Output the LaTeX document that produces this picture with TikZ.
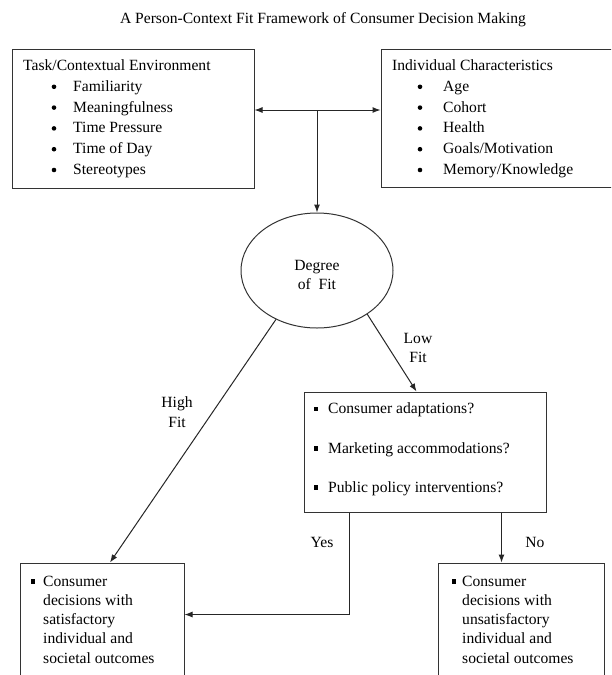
\documentclass[tikz,border=0pt]{standalone}
\usepackage{fontspec}
\setmainfont{Liberation Serif}
\usetikzlibrary{arrows.meta,shapes.geometric,calc}
\begin{document}
\begin{tikzpicture}[x=1pt,y=-1pt,
  every node/.style={font=\fontsize{15.6}{20.8}\selectfont, text=black},
  box/.style={draw=black!80, line width=1pt, rectangle, inner sep=0pt},
  oval/.style={draw=black!80, line width=1pt, ellipse, inner sep=0pt},
  txt/.style={anchor=base west, inner sep=0pt},
  ctr/.style={anchor=base, inner sep=0pt},
  dotb/.style={circle, fill=black, inner sep=0pt, minimum size=4.6pt},
  sqb/.style={rectangle, fill=black, inner sep=0pt, minimum size=4.4pt},
  conn/.style={draw=black!85, line width=1pt},
  arr/.style={conn, -{Latex[length=8pt,width=6pt]}},
]
\fill[white] (0,0) rectangle (611,675);
\useasboundingbox (0,0) rectangle (611,675);
\clip (0,0) rectangle (611,675);

% title
\node[ctr] (title) at (323,23) {A Person-Context Fit Framework of Consumer Decision Making};

% boxes
\node[box, minimum width=242pt, minimum height=139pt] (left) at (133,118.5) {};
\node[box, minimum width=259pt, minimum height=138pt] (right) at (510.5,118) {};
\node[oval, minimum width=152pt, minimum height=115pt] (fit) at (317,270.5) {};
\node[box, minimum width=242pt, minimum height=120pt] (mid) at (425,452) {};
\node[box, minimum width=164pt, minimum height=137pt] (bl) at (102,631.5) {};
\node[box, minimum width=166pt, minimum height=137pt] (br) at (521,631.5) {};

% left box text
\node[txt] (lh) at (23,70.5) {Task/Contextual Environment};
\node[dotb] (lb1) at (54,86.8) {};  \node[txt] (lt1) at (73,91.3) {Familiarity};
\node[dotb] (lb2) at (54,107.6) {}; \node[txt] (lt2) at (73,112.1) {Meaningfulness};
\node[dotb] (lb3) at (54,128.4) {}; \node[txt] (lt3) at (73,132.9) {Time Pressure};
\node[dotb] (lb4) at (54,149.2) {}; \node[txt] (lt4) at (73,153.7) {Time of Day};
\node[dotb] (lb5) at (54,170.0) {}; \node[txt] (lt5) at (73,174.5) {Stereotypes};

% right box text
\node[txt] (rh) at (392,70.5) {Individual Characteristics};
\node[dotb] (rb1) at (420,86.8) {};  \node[txt] (rt1) at (443,91.3) {Age};
\node[dotb] (rb2) at (420,107.6) {}; \node[txt] (rt2) at (443,112.1) {Cohort};
\node[dotb] (rb3) at (420,128.4) {}; \node[txt] (rt3) at (443,132.9) {Health};
\node[dotb] (rb4) at (420,149.2) {}; \node[txt] (rt4) at (443,153.7) {Goals/Motivation};
\node[dotb] (rb5) at (420,170.0) {}; \node[txt] (rt5) at (443,174.5) {Memory/Knowledge};

% ellipse text
\node[ctr] (fit1) at (317,270) {Degree};
\node[ctr] (fit2) at (317,289) {of\ \ Fit};

% middle box text
\node[sqb] (mb1) at (316,409) {}; \node[txt] (mt1) at (328,413.5) {Consumer adaptations?};
\node[sqb] (mb2) at (316,448.5) {}; \node[txt] (mt2) at (328,453) {Marketing accommodations?};
\node[sqb] (mb3) at (316,487.5) {}; \node[txt] (mt3) at (328,492) {Public policy interventions?};

% bottom-left text
\node[sqb] (blb) at (33,581.5) {};
\node[txt] (bl1) at (43,586) {Consumer};
\node[txt] (bl2) at (43,605.3) {decisions with};
\node[txt] (bl3) at (43,624.6) {satisfactory};
\node[txt] (bl4) at (43,643.9) {individual and};
\node[txt] (bl5) at (43,663.2) {societal outcomes};

% bottom-right text
\node[sqb] (brb) at (454,581.5) {};
\node[txt] (br1) at (462,586) {Consumer};
\node[txt] (br2) at (462,605.3) {decisions with};
\node[txt] (br3) at (462,624.6) {unsatisfactory};
\node[txt] (br4) at (462,643.9) {individual and};
\node[txt] (br5) at (462,663.2) {societal outcomes};

% labels
\node[ctr] (hi1) at (177,407) {High};
\node[ctr] (hi2) at (177,427) {Fit};
\node[ctr] (lo1) at (418,343) {Low};
\node[ctr] (lo2) at (418,362) {Fit};
\node[ctr] (yes) at (322,547) {Yes};
\node[ctr] (no) at (535,547) {No};

% connectors
\coordinate (j) at (317,110);
\draw[arr] (j) -- (left.east |- j);
\draw[arr] (j) -- (right.west |- j);
\draw[arr] (j) -- (fit.north);
\draw[arr] (fit.230) -- ($(bl.north west)+(90.5,0)$);
\draw[arr] (fit.319) -- ($(mid.north west)+(113,0)$);
\coordinate (ys) at ($(mid.south west)+(46,0)$);
\coordinate (ye) at ($(bl.north east)+(0,52)$);
\draw[arr] (ys) |- (ye);
\coordinate (ns) at ($(mid.south west)+(198,0)$);
\draw[arr] (ns) -- (ns |- br.north);
\end{tikzpicture}
\end{document}
